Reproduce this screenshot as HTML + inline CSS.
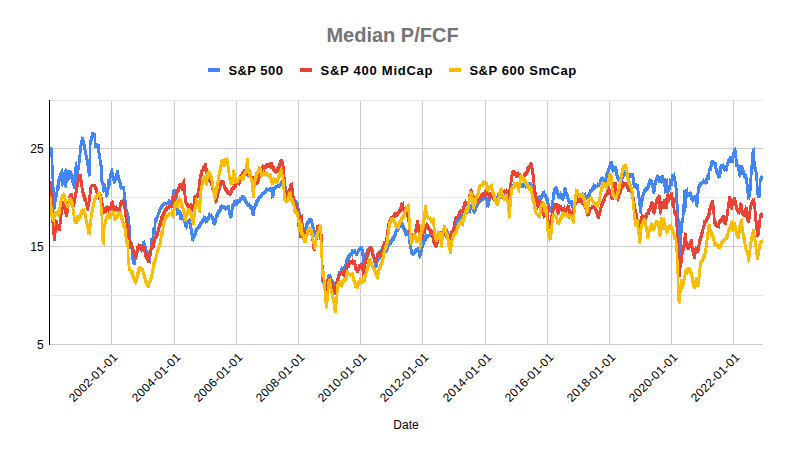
<!DOCTYPE html>
<html><head><meta charset="utf-8"><style>
html,body{margin:0;padding:0;background:#fff;width:785px;height:455px;overflow:hidden}
svg{display:block}
text{font-family:"Liberation Sans",Arial,sans-serif}
.ax{font-size:12px;fill:#000}
.ttl{font-size:20px;font-weight:bold;fill:#757575}
.lg{font-size:13px;font-weight:bold;fill:#000}
</style></head><body>
<svg width="785" height="455" viewBox="0 0 785 455">
<defs><clipPath id="pc"><rect x="50" y="95" width="713" height="250"/></clipPath></defs>
<rect width="785" height="455" fill="#fff"/>
<text x="392.5" y="42" text-anchor="middle" class="ttl">Median P/FCF</text>
<rect x="208" y="68" width="12" height="4" fill="#4285f4"/>
<text x="228.4" y="74.5" class="lg" textLength="54.5" lengthAdjust="spacing">S&amp;P 500</text>
<rect x="300" y="68" width="12" height="4" fill="#ea4335"/>
<text x="320.5" y="74.5" class="lg" textLength="112" lengthAdjust="spacing">S&amp;P 400 MidCap</text>
<rect x="449" y="68" width="12" height="4" fill="#fbbc04"/>
<text x="469.4" y="74.5" class="lg" textLength="106.8" lengthAdjust="spacing">S&amp;P 600 SmCap</text>
<line x1="111.5" x2="111.5" y1="100" y2="345" stroke="#cccccc" stroke-width="1"/>
<line x1="174.5" x2="174.5" y1="100" y2="345" stroke="#cccccc" stroke-width="1"/>
<line x1="236.5" x2="236.5" y1="100" y2="345" stroke="#cccccc" stroke-width="1"/>
<line x1="298.5" x2="298.5" y1="100" y2="345" stroke="#cccccc" stroke-width="1"/>
<line x1="360.5" x2="360.5" y1="100" y2="345" stroke="#cccccc" stroke-width="1"/>
<line x1="422.5" x2="422.5" y1="100" y2="345" stroke="#cccccc" stroke-width="1"/>
<line x1="485.5" x2="485.5" y1="100" y2="345" stroke="#cccccc" stroke-width="1"/>
<line x1="547.5" x2="547.5" y1="100" y2="345" stroke="#cccccc" stroke-width="1"/>
<line x1="609.5" x2="609.5" y1="100" y2="345" stroke="#cccccc" stroke-width="1"/>
<line x1="671.5" x2="671.5" y1="100" y2="345" stroke="#cccccc" stroke-width="1"/>
<line x1="733.5" x2="733.5" y1="100" y2="345" stroke="#cccccc" stroke-width="1"/>
<line x1="49" x2="763" y1="295.5" y2="295.5" stroke="#e6e6e6" stroke-width="1"/>
<line x1="49" x2="763" y1="197.5" y2="197.5" stroke="#e6e6e6" stroke-width="1"/>
<line x1="49" x2="763" y1="100.5" y2="100.5" stroke="#e6e6e6" stroke-width="1"/>
<line x1="49" x2="763" y1="246.5" y2="246.5" stroke="#cccccc" stroke-width="1"/>
<line x1="49" x2="763" y1="148.5" y2="148.5" stroke="#cccccc" stroke-width="1"/>
<line x1="49" x2="763" y1="344.5" y2="344.5" stroke="#cccccc" stroke-width="1"/>
<line x1="49.5" x2="49.5" y1="100" y2="345" stroke="#000" stroke-width="1"/>
<text x="43.6" y="348.8" text-anchor="end" class="ax">5</text>
<text x="43.6" y="250.8" text-anchor="end" class="ax">15</text>
<text x="43.6" y="152.8" text-anchor="end" class="ax">25</text>
<text transform="translate(118.3,358.1) rotate(-45)" text-anchor="end" class="ax" textLength="63" lengthAdjust="spacing">2002-01-01</text>
<text transform="translate(181.3,358.1) rotate(-45)" text-anchor="end" class="ax" textLength="63" lengthAdjust="spacing">2004-01-01</text>
<text transform="translate(243.3,358.1) rotate(-45)" text-anchor="end" class="ax" textLength="63" lengthAdjust="spacing">2006-01-01</text>
<text transform="translate(305.3,358.1) rotate(-45)" text-anchor="end" class="ax" textLength="63" lengthAdjust="spacing">2008-01-01</text>
<text transform="translate(367.3,358.1) rotate(-45)" text-anchor="end" class="ax" textLength="63" lengthAdjust="spacing">2010-01-01</text>
<text transform="translate(429.3,358.1) rotate(-45)" text-anchor="end" class="ax" textLength="63" lengthAdjust="spacing">2012-01-01</text>
<text transform="translate(492.3,358.1) rotate(-45)" text-anchor="end" class="ax" textLength="63" lengthAdjust="spacing">2014-01-01</text>
<text transform="translate(554.3,358.1) rotate(-45)" text-anchor="end" class="ax" textLength="63" lengthAdjust="spacing">2016-01-01</text>
<text transform="translate(616.3,358.1) rotate(-45)" text-anchor="end" class="ax" textLength="63" lengthAdjust="spacing">2018-01-01</text>
<text transform="translate(678.3,358.1) rotate(-45)" text-anchor="end" class="ax" textLength="63" lengthAdjust="spacing">2020-01-01</text>
<text transform="translate(740.3,358.1) rotate(-45)" text-anchor="end" class="ax" textLength="63" lengthAdjust="spacing">2022-01-01</text>
<g clip-path="url(#pc)"><path d="M50 147h1v10h-1zM51 147h1v32h-1zM52 148h1v53h-1zM53 165h1v45h-1zM54 187h1v23h-1zM55 192h1v17h-1zM56 185h1v17h-1zM57 179h1v18h-1zM58 176h1v15h-1zM59 173h1v16h-1zM60 171h1v11h-1zM61 169h1v17h-1zM62 168h1v19h-1zM63 172h1v13h-1zM64 170h1v17h-1zM65 168h1v20h-1zM66 169h1v19h-1zM67 170h1v13h-1zM68 170h1v11h-1zM69 170h1v10h-1zM70 170h1v9h-1zM71 171h1v12h-1zM72 173h1v13h-1zM73 175h1v14h-1zM74 167h1v22h-1zM75 162h1v27h-1zM76 161h1v21h-1zM77 165h1v17h-1zM78 155h1v21h-1zM79 145h1v25h-1zM80 140h1v23h-1zM81 136h1v17h-1zM82 137h1v9h-1zM83 137h1v13h-1zM84 140h1v15h-1zM85 144h1v16h-1zM86 150h1v16h-1zM87 155h1v18h-1zM88 159h1v18h-1zM89 140h1v36h-1zM90 136h1v40h-1zM91 132h1v13h-1zM92 132h1v9h-1zM93 132h1v6h-1zM94 133h1v15h-1zM95 133h1v15h-1zM96 143h1v5h-1zM97 143h1v10h-1zM98 144h1v15h-1zM99 144h1v22h-1zM100 153h1v29h-1zM101 160h1v25h-1zM102 165h1v27h-1zM103 181h1v12h-1zM104 183h1v9h-1zM105 184h1v13h-1zM106 187h1v11h-1zM107 179h1v18h-1zM108 179h1v16h-1zM109 173h1v16h-1zM110 170h1v16h-1zM111 168h1v10h-1zM112 168h1v13h-1zM113 172h1v12h-1zM114 176h1v8h-1zM115 173h1v10h-1zM116 170h1v11h-1zM117 170h1v10h-1zM118 170h1v13h-1zM119 175h1v13h-1zM120 179h1v11h-1zM121 182h1v7h-1zM122 186h1v4h-1zM123 186h1v14h-1zM124 186h1v22h-1zM125 192h1v22h-1zM126 200h1v17h-1zM127 209h1v16h-1zM128 212h1v20h-1zM129 216h1v33h-1zM130 225h1v24h-1zM131 242h1v18h-1zM132 242h1v22h-1zM133 253h1v12h-1zM134 254h1v11h-1zM135 251h1v14h-1zM136 248h1v12h-1zM137 245h1v10h-1zM138 244h1v9h-1zM139 244h1v6h-1zM140 244h1v6h-1zM141 244h1v9h-1zM142 241h1v10h-1zM143 241h1v7h-1zM144 240h1v11h-1zM145 243h1v11h-1zM146 246h1v12h-1zM147 250h1v12h-1zM148 251h1v12h-1zM149 251h1v12h-1zM150 238h1v26h-1zM151 238h1v18h-1zM152 228h1v20h-1zM153 227h1v16h-1zM154 218h1v17h-1zM155 217h1v18h-1zM156 215h1v8h-1zM157 212h1v9h-1zM158 209h1v9h-1zM159 207h1v8h-1zM160 205h1v8h-1zM161 204h1v6h-1zM162 203h1v6h-1zM163 202h1v5h-1zM164 202h1v4h-1zM165 202h1v3h-1zM166 202h1v5h-1zM167 201h1v4h-1zM168 199h1v7h-1zM169 199h1v6h-1zM170 200h1v5h-1zM171 196h1v10h-1zM172 190h1v16h-1zM173 189h1v14h-1zM174 189h1v22h-1zM175 189h1v21h-1zM176 191h1v25h-1zM177 190h1v25h-1zM178 209h1v6h-1zM179 210h1v10h-1zM180 210h1v10h-1zM181 212h1v9h-1zM182 214h1v6h-1zM183 214h1v9h-1zM184 215h1v12h-1zM185 218h1v10h-1zM186 219h1v11h-1zM187 220h1v8h-1zM188 219h1v5h-1zM189 218h1v11h-1zM190 219h1v16h-1zM191 223h1v18h-1zM192 228h1v13h-1zM193 233h1v9h-1zM194 230h1v9h-1zM195 228h1v9h-1zM196 227h1v8h-1zM197 226h1v6h-1zM198 224h1v6h-1zM199 222h1v7h-1zM200 221h1v7h-1zM201 219h1v7h-1zM202 218h1v6h-1zM203 215h1v8h-1zM204 216h1v6h-1zM205 216h1v8h-1zM206 217h1v6h-1zM207 216h1v7h-1zM208 213h1v8h-1zM209 212h1v8h-1zM210 214h1v4h-1zM211 213h1v7h-1zM212 215h1v9h-1zM213 216h1v9h-1zM214 218h1v8h-1zM215 214h1v11h-1zM216 212h1v11h-1zM217 210h1v8h-1zM218 209h1v8h-1zM219 206h1v8h-1zM220 205h1v8h-1zM221 204h1v7h-1zM222 205h1v4h-1zM223 205h1v4h-1zM224 205h1v5h-1zM225 206h1v5h-1zM226 206h1v4h-1zM227 205h1v5h-1zM228 205h1v10h-1zM229 205h1v13h-1zM230 210h1v9h-1zM231 204h1v14h-1zM232 203h1v14h-1zM233 200h1v10h-1zM234 200h1v7h-1zM235 199h1v7h-1zM236 200h1v6h-1zM237 199h1v7h-1zM238 199h1v5h-1zM239 197h1v6h-1zM240 197h1v6h-1zM241 195h1v6h-1zM242 195h1v5h-1zM243 195h1v6h-1zM244 196h1v7h-1zM245 197h1v7h-1zM246 199h1v7h-1zM247 201h1v6h-1zM248 203h1v4h-1zM249 202h1v7h-1zM250 204h1v6h-1zM251 205h1v10h-1zM252 206h1v10h-1zM253 206h1v10h-1zM254 203h1v13h-1zM255 200h1v10h-1zM256 199h1v8h-1zM257 197h1v9h-1zM258 196h1v7h-1zM259 195h1v6h-1zM260 194h1v5h-1zM261 192h1v6h-1zM262 192h1v5h-1zM263 191h1v4h-1zM264 190h1v5h-1zM265 188h1v6h-1zM266 187h1v6h-1zM267 188h1v4h-1zM268 188h1v3h-1zM269 187h1v5h-1zM270 187h1v5h-1zM271 187h1v12h-1zM272 187h1v11h-1zM273 187h1v11h-1zM274 186h1v10h-1zM275 185h1v5h-1zM276 185h1v4h-1zM277 184h1v4h-1zM278 184h1v4h-1zM279 183h1v5h-1zM280 181h1v6h-1zM281 180h1v6h-1zM282 181h1v4h-1zM283 181h1v5h-1zM284 182h1v8h-1zM285 182h1v11h-1zM286 186h1v9h-1zM287 190h1v6h-1zM288 191h1v6h-1zM289 192h1v7h-1zM290 194h1v6h-1zM291 195h1v5h-1zM292 195h1v6h-1zM293 197h1v7h-1zM294 199h1v5h-1zM295 199h1v6h-1zM296 200h1v6h-1zM297 201h1v13h-1zM298 203h1v16h-1zM299 208h1v14h-1zM300 212h1v15h-1zM301 217h1v13h-1zM302 220h1v12h-1zM303 224h1v8h-1zM304 227h1v5h-1zM305 223h1v9h-1zM306 221h1v11h-1zM307 220h1v8h-1zM308 218h1v7h-1zM309 218h1v6h-1zM310 218h1v5h-1zM311 218h1v11h-1zM312 219h1v14h-1zM313 223h1v12h-1zM314 227h1v10h-1zM315 230h1v6h-1zM316 230h1v6h-1zM317 230h1v5h-1zM318 230h1v7h-1zM319 230h1v10h-1zM320 233h1v22h-1zM321 234h1v48h-1zM322 245h1v39h-1zM323 270h1v15h-1zM324 280h1v6h-1zM325 280h1v5h-1zM326 279h1v7h-1zM327 275h1v10h-1zM328 274h1v8h-1zM329 274h1v6h-1zM330 274h1v9h-1zM331 276h1v8h-1zM332 279h1v7h-1zM333 280h1v12h-1zM334 282h1v13h-1zM335 283h1v12h-1zM336 278h1v16h-1zM337 275h1v16h-1zM338 271h1v12h-1zM339 271h1v8h-1zM340 268h1v8h-1zM341 266h1v8h-1zM342 267h1v6h-1zM343 266h1v7h-1zM344 264h1v7h-1zM345 259h1v12h-1zM346 257h1v12h-1zM347 255h1v10h-1zM348 254h1v8h-1zM349 253h1v6h-1zM350 252h1v6h-1zM351 249h1v7h-1zM352 249h1v8h-1zM353 250h1v4h-1zM354 249h1v5h-1zM355 249h1v7h-1zM356 251h1v5h-1zM357 249h1v7h-1zM358 248h1v6h-1zM359 247h1v5h-1zM360 246h1v5h-1zM361 247h1v9h-1zM362 246h1v18h-1zM363 249h1v17h-1zM364 253h1v11h-1zM365 252h1v11h-1zM366 249h1v9h-1zM367 248h1v8h-1zM368 247h1v7h-1zM369 246h1v5h-1zM370 246h1v5h-1zM371 246h1v9h-1zM372 247h1v12h-1zM373 249h1v14h-1zM374 254h1v13h-1zM375 258h1v10h-1zM376 256h1v12h-1zM377 255h1v12h-1zM378 253h1v9h-1zM379 250h1v10h-1zM380 249h1v10h-1zM381 247h1v8h-1zM382 244h1v8h-1zM383 243h1v7h-1zM384 243h1v6h-1zM385 243h1v9h-1zM386 245h1v8h-1zM387 243h1v9h-1zM388 242h1v8h-1zM389 240h1v7h-1zM390 239h1v6h-1zM391 237h1v8h-1zM392 236h1v7h-1zM393 234h1v7h-1zM394 231h1v10h-1zM395 229h1v9h-1zM396 228h1v8h-1zM397 227h1v5h-1zM398 224h1v8h-1zM399 221h1v9h-1zM400 221h1v7h-1zM401 218h1v10h-1zM402 221h1v9h-1zM403 223h1v9h-1zM404 225h1v10h-1zM405 228h1v9h-1zM406 229h1v7h-1zM407 230h1v6h-1zM408 229h1v15h-1zM409 230h1v19h-1zM410 237h1v17h-1zM411 244h1v11h-1zM412 249h1v7h-1zM413 251h1v5h-1zM414 249h1v6h-1zM415 248h1v6h-1zM416 248h1v5h-1zM417 247h1v5h-1zM418 247h1v10h-1zM419 247h1v12h-1zM420 245h1v13h-1zM421 242h1v14h-1zM422 237h1v15h-1zM423 237h1v11h-1zM424 235h1v10h-1zM425 235h1v7h-1zM426 234h1v7h-1zM427 234h1v5h-1zM428 234h1v4h-1zM429 233h1v4h-1zM430 233h1v4h-1zM431 233h1v5h-1zM432 233h1v6h-1zM433 235h1v6h-1zM434 235h1v8h-1zM435 236h1v6h-1zM436 233h1v10h-1zM437 233h1v9h-1zM438 232h1v7h-1zM439 232h1v5h-1zM440 231h1v5h-1zM441 231h1v4h-1zM442 229h1v5h-1zM443 228h1v6h-1zM444 229h1v4h-1zM445 228h1v6h-1zM446 230h1v6h-1zM447 229h1v9h-1zM448 231h1v10h-1zM449 233h1v7h-1zM450 233h1v7h-1zM451 230h1v10h-1zM452 229h1v8h-1zM453 228h1v8h-1zM454 225h1v9h-1zM455 221h1v10h-1zM456 220h1v9h-1zM457 218h1v8h-1zM458 217h1v6h-1zM459 216h1v5h-1zM460 215h1v5h-1zM461 214h1v5h-1zM462 213h1v5h-1zM463 211h1v6h-1zM464 209h1v7h-1zM465 209h1v6h-1zM466 209h1v4h-1zM467 209h1v5h-1zM468 209h1v4h-1zM469 206h1v7h-1zM470 204h1v10h-1zM471 205h1v5h-1zM472 205h1v7h-1zM473 206h1v8h-1zM474 207h1v7h-1zM475 204h1v9h-1zM476 202h1v9h-1zM477 201h1v7h-1zM478 200h1v6h-1zM479 198h1v6h-1zM480 195h1v8h-1zM481 197h1v5h-1zM482 196h1v5h-1zM483 195h1v6h-1zM484 195h1v5h-1zM485 194h1v7h-1zM486 194h1v14h-1zM487 197h1v10h-1zM488 198h1v10h-1zM489 195h1v11h-1zM490 193h1v8h-1zM491 193h1v6h-1zM492 193h1v5h-1zM493 192h1v7h-1zM494 193h1v8h-1zM495 195h1v6h-1zM496 196h1v5h-1zM497 193h1v7h-1zM498 195h1v5h-1zM499 194h1v5h-1zM500 192h1v7h-1zM501 192h1v7h-1zM502 192h1v6h-1zM503 193h1v5h-1zM504 193h1v4h-1zM505 192h1v6h-1zM506 193h1v5h-1zM507 193h1v4h-1zM508 189h1v8h-1zM509 186h1v10h-1zM510 186h1v8h-1zM511 185h1v7h-1zM512 184h1v6h-1zM513 183h1v6h-1zM514 182h1v6h-1zM515 182h1v4h-1zM516 182h1v5h-1zM517 182h1v6h-1zM518 184h1v4h-1zM519 184h1v5h-1zM520 185h1v3h-1zM521 183h1v5h-1zM522 183h1v5h-1zM523 182h1v6h-1zM524 182h1v5h-1zM525 181h1v8h-1zM526 183h1v5h-1zM527 182h1v7h-1zM528 182h1v6h-1zM529 182h1v5h-1zM530 182h1v7h-1zM531 183h1v10h-1zM532 184h1v13h-1zM533 188h1v13h-1zM534 192h1v10h-1zM535 195h1v7h-1zM536 197h1v6h-1zM537 196h1v6h-1zM538 196h1v4h-1zM539 195h1v6h-1zM540 195h1v6h-1zM541 193h1v7h-1zM542 191h1v8h-1zM543 191h1v6h-1zM544 190h1v8h-1zM545 193h1v8h-1zM546 194h1v10h-1zM547 196h1v12h-1zM548 198h1v13h-1zM549 203h1v9h-1zM550 206h1v7h-1zM551 200h1v13h-1zM552 192h1v20h-1zM553 188h1v18h-1zM554 187h1v13h-1zM555 186h1v8h-1zM556 186h1v9h-1zM557 187h1v11h-1zM558 190h1v9h-1zM559 193h1v6h-1zM560 191h1v8h-1zM561 193h1v7h-1zM562 193h1v8h-1zM563 188h1v13h-1zM564 187h1v12h-1zM565 187h1v9h-1zM566 188h1v11h-1zM567 192h1v10h-1zM568 194h1v10h-1zM569 198h1v6h-1zM570 200h1v6h-1zM571 200h1v8h-1zM572 200h1v9h-1zM573 201h1v9h-1zM574 198h1v12h-1zM575 195h1v12h-1zM576 193h1v9h-1zM577 192h1v9h-1zM578 193h1v4h-1zM579 193h1v6h-1zM580 193h1v6h-1zM581 193h1v6h-1zM582 192h1v7h-1zM583 193h1v4h-1zM584 193h1v6h-1zM585 192h1v6h-1zM586 195h1v5h-1zM587 194h1v5h-1zM588 192h1v7h-1zM589 189h1v8h-1zM590 189h1v7h-1zM591 187h1v6h-1zM592 185h1v7h-1zM593 183h1v8h-1zM594 184h1v6h-1zM595 184h1v5h-1zM596 185h1v3h-1zM597 182h1v6h-1zM598 183h1v4h-1zM599 179h1v8h-1zM600 177h1v8h-1zM601 177h1v7h-1zM602 176h1v6h-1zM603 177h1v6h-1zM604 178h1v5h-1zM605 173h1v10h-1zM606 171h1v13h-1zM607 168h1v11h-1zM608 165h1v10h-1zM609 162h1v10h-1zM610 161h1v8h-1zM611 161h1v10h-1zM612 161h1v12h-1zM613 165h1v7h-1zM614 166h1v6h-1zM615 166h1v10h-1zM616 166h1v13h-1zM617 169h1v12h-1zM618 175h1v7h-1zM619 177h1v6h-1zM620 178h1v5h-1zM621 175h1v8h-1zM622 172h1v9h-1zM623 172h1v7h-1zM624 170h1v7h-1zM625 172h1v4h-1zM626 172h1v5h-1zM627 172h1v5h-1zM628 173h1v4h-1zM629 173h1v6h-1zM630 173h1v5h-1zM631 173h1v5h-1zM632 173h1v12h-1zM633 173h1v15h-1zM634 177h1v11h-1zM635 183h1v6h-1zM636 183h1v7h-1zM637 184h1v14h-1zM638 184h1v22h-1zM639 191h1v22h-1zM640 197h1v17h-1zM641 195h1v20h-1zM642 192h1v15h-1zM643 189h1v12h-1zM644 188h1v8h-1zM645 187h1v6h-1zM646 186h1v6h-1zM647 183h1v8h-1zM648 180h1v10h-1zM649 178h1v10h-1zM650 179h1v6h-1zM651 179h1v9h-1zM652 180h1v13h-1zM653 183h1v11h-1zM654 180h1v14h-1zM655 177h1v15h-1zM656 175h1v10h-1zM657 174h1v7h-1zM658 175h1v8h-1zM659 176h1v7h-1zM660 176h1v7h-1zM661 175h1v9h-1zM662 175h1v8h-1zM663 175h1v12h-1zM664 178h1v16h-1zM665 178h1v15h-1zM666 179h1v14h-1zM667 178h1v16h-1zM668 185h1v9h-1zM669 178h1v14h-1zM670 179h1v11h-1zM671 174h1v12h-1zM672 174h1v12h-1zM673 174h1v7h-1zM674 172h1v15h-1zM675 176h1v27h-1zM676 181h1v35h-1zM677 188h1v44h-1zM678 204h1v47h-1zM679 219h1v40h-1zM680 221h1v37h-1zM681 218h1v41h-1zM682 204h1v29h-1zM683 190h1v33h-1zM684 190h1v25h-1zM685 189h1v23h-1zM686 189h1v19h-1zM687 187h1v11h-1zM688 192h1v5h-1zM689 192h1v5h-1zM690 191h1v9h-1zM691 192h1v9h-1zM692 195h1v8h-1zM693 196h1v6h-1zM694 195h1v6h-1zM695 195h1v11h-1zM696 193h1v14h-1zM697 186h1v22h-1zM698 184h1v20h-1zM699 182h1v11h-1zM700 182h1v6h-1zM701 181h1v5h-1zM702 180h1v5h-1zM703 178h1v6h-1zM704 180h1v4h-1zM705 178h1v7h-1zM706 175h1v9h-1zM707 173h1v11h-1zM708 168h1v12h-1zM709 166h1v14h-1zM710 161h1v10h-1zM711 160h1v11h-1zM712 160h1v7h-1zM713 160h1v5h-1zM714 161h1v8h-1zM715 162h1v11h-1zM716 162h1v13h-1zM717 168h1v10h-1zM718 170h1v9h-1zM719 166h1v12h-1zM720 164h1v14h-1zM721 164h1v10h-1zM722 164h1v5h-1zM723 163h1v8h-1zM724 165h1v7h-1zM725 165h1v6h-1zM726 162h1v10h-1zM727 159h1v12h-1zM728 158h1v8h-1zM729 156h1v7h-1zM730 156h1v7h-1zM731 156h1v7h-1zM732 152h1v11h-1zM733 149h1v14h-1zM734 148h1v10h-1zM735 147h1v20h-1zM736 150h1v17h-1zM737 159h1v12h-1zM738 164h1v12h-1zM739 165h1v13h-1zM740 165h1v12h-1zM741 165h1v10h-1zM742 165h1v10h-1zM743 167h1v11h-1zM744 170h1v9h-1zM745 173h1v11h-1zM746 174h1v19h-1zM747 177h1v23h-1zM748 184h1v15h-1zM749 178h1v22h-1zM750 165h1v32h-1zM751 152h1v39h-1zM752 148h1v27h-1zM753 149h1v20h-1zM754 147h1v25h-1zM755 161h1v20h-1zM756 167h1v28h-1zM757 172h1v26h-1zM758 186h1v12h-1zM759 178h1v20h-1zM760 176h1v21h-1zM761 175h1v7h-1zM762 176h1v4h-1z" fill="#4285f4"/>
<path d="M50 181h1v23h-1zM51 181h1v42h-1zM52 191h1v44h-1zM53 210h1v31h-1zM54 226h1v15h-1zM55 219h1v22h-1zM56 220h1v13h-1zM57 220h1v10h-1zM58 224h1v7h-1zM59 217h1v14h-1zM60 209h1v22h-1zM61 203h1v21h-1zM62 202h1v13h-1zM63 201h1v9h-1zM64 202h1v12h-1zM65 204h1v13h-1zM66 206h1v11h-1zM67 201h1v16h-1zM68 196h1v17h-1zM69 194h1v12h-1zM70 193h1v9h-1zM71 193h1v9h-1zM72 193h1v14h-1zM73 197h1v10h-1zM74 192h1v15h-1zM75 187h1v17h-1zM76 182h1v16h-1zM77 176h1v17h-1zM78 173h1v14h-1zM79 174h1v8h-1zM80 174h1v13h-1zM81 174h1v19h-1zM82 180h1v17h-1zM83 188h1v13h-1zM84 192h1v10h-1zM85 195h1v11h-1zM86 198h1v12h-1zM87 202h1v9h-1zM88 195h1v16h-1zM89 187h1v20h-1zM90 185h1v17h-1zM91 184h1v10h-1zM92 184h1v3h-1zM93 184h1v3h-1zM94 184h1v6h-1zM95 184h1v9h-1zM96 186h1v12h-1zM97 188h1v11h-1zM98 192h1v8h-1zM99 193h1v7h-1zM100 192h1v10h-1zM101 194h1v15h-1zM102 197h1v18h-1zM103 203h1v11h-1zM104 207h1v7h-1zM105 206h1v7h-1zM106 206h1v7h-1zM107 205h1v7h-1zM108 206h1v7h-1zM109 206h1v5h-1zM110 202h1v9h-1zM111 201h1v9h-1zM112 200h1v11h-1zM113 201h1v11h-1zM114 205h1v7h-1zM115 206h1v5h-1zM116 205h1v7h-1zM117 207h1v6h-1zM118 207h1v6h-1zM119 202h1v12h-1zM120 200h1v13h-1zM121 200h1v7h-1zM122 199h1v6h-1zM123 199h1v10h-1zM124 201h1v16h-1zM125 202h1v21h-1zM126 209h1v19h-1zM127 218h1v20h-1zM128 223h1v19h-1zM129 229h1v16h-1zM130 237h1v11h-1zM131 241h1v11h-1zM132 244h1v10h-1zM133 246h1v11h-1zM134 249h1v9h-1zM135 251h1v7h-1zM136 246h1v13h-1zM137 245h1v12h-1zM138 243h1v8h-1zM139 244h1v6h-1zM140 244h1v7h-1zM141 245h1v5h-1zM142 246h1v5h-1zM143 245h1v7h-1zM144 246h1v11h-1zM145 249h1v10h-1zM146 252h1v9h-1zM147 254h1v9h-1zM148 253h1v10h-1zM149 249h1v14h-1zM150 246h1v12h-1zM151 243h1v11h-1zM152 240h1v10h-1zM153 237h1v12h-1zM154 236h1v12h-1zM155 235h1v8h-1zM156 231h1v8h-1zM157 227h1v11h-1zM158 223h1v13h-1zM159 220h1v12h-1zM160 216h1v12h-1zM161 214h1v12h-1zM162 212h1v9h-1zM163 210h1v10h-1zM164 208h1v8h-1zM165 207h1v8h-1zM166 205h1v7h-1zM167 206h1v5h-1zM168 204h1v5h-1zM169 205h1v5h-1zM170 205h1v3h-1zM171 201h1v7h-1zM172 196h1v12h-1zM173 196h1v11h-1zM174 193h1v10h-1zM175 192h1v11h-1zM176 189h1v9h-1zM177 187h1v10h-1zM178 184h1v9h-1zM179 183h1v9h-1zM180 183h1v6h-1zM181 183h1v8h-1zM182 181h1v10h-1zM183 179h1v16h-1zM184 178h1v25h-1zM185 184h1v21h-1zM186 196h1v11h-1zM187 202h1v6h-1zM188 203h1v7h-1zM189 204h1v6h-1zM190 203h1v7h-1zM191 203h1v9h-1zM192 204h1v8h-1zM193 196h1v16h-1zM194 195h1v16h-1zM195 195h1v10h-1zM196 193h1v7h-1zM197 188h1v10h-1zM198 179h1v19h-1zM199 174h1v21h-1zM200 170h1v16h-1zM201 169h1v9h-1zM202 166h1v10h-1zM203 165h1v7h-1zM204 163h1v8h-1zM205 163h1v11h-1zM206 163h1v15h-1zM207 168h1v12h-1zM208 173h1v9h-1zM209 176h1v7h-1zM210 177h1v9h-1zM211 179h1v11h-1zM212 182h1v11h-1zM213 185h1v12h-1zM214 189h1v13h-1zM215 192h1v12h-1zM216 193h1v10h-1zM217 189h1v13h-1zM218 185h1v13h-1zM219 182h1v11h-1zM220 180h1v10h-1zM221 180h1v7h-1zM222 180h1v5h-1zM223 180h1v9h-1zM224 181h1v10h-1zM225 185h1v7h-1zM226 187h1v7h-1zM227 188h1v7h-1zM228 190h1v5h-1zM229 191h1v5h-1zM230 188h1v8h-1zM231 187h1v8h-1zM232 186h1v7h-1zM233 184h1v6h-1zM234 182h1v8h-1zM235 180h1v8h-1zM236 179h1v9h-1zM237 179h1v6h-1zM238 178h1v7h-1zM239 175h1v11h-1zM240 174h1v10h-1zM241 172h1v8h-1zM242 171h1v6h-1zM243 169h1v6h-1zM244 169h1v5h-1zM245 168h1v6h-1zM246 168h1v8h-1zM247 169h1v8h-1zM248 170h1v7h-1zM249 170h1v7h-1zM250 170h1v10h-1zM251 173h1v7h-1zM252 176h1v5h-1zM253 176h1v9h-1zM254 178h1v6h-1zM255 178h1v7h-1zM256 180h1v5h-1zM257 178h1v7h-1zM258 174h1v10h-1zM259 171h1v11h-1zM260 169h1v9h-1zM261 166h1v10h-1zM262 164h1v9h-1zM263 165h1v5h-1zM264 165h1v7h-1zM265 164h1v5h-1zM266 163h1v6h-1zM267 163h1v5h-1zM268 163h1v5h-1zM269 162h1v6h-1zM270 162h1v7h-1zM271 162h1v7h-1zM272 162h1v9h-1zM273 165h1v7h-1zM274 166h1v7h-1zM275 169h1v5h-1zM276 167h1v6h-1zM277 166h1v7h-1zM278 163h1v9h-1zM279 160h1v10h-1zM280 159h1v9h-1zM281 159h1v7h-1zM282 159h1v13h-1zM283 161h1v27h-1zM284 166h1v32h-1zM285 177h1v20h-1zM286 190h1v8h-1zM287 190h1v7h-1zM288 188h1v8h-1zM289 184h1v9h-1zM290 183h1v8h-1zM291 183h1v12h-1zM292 182h1v19h-1zM293 188h1v19h-1zM294 196h1v13h-1zM295 201h1v10h-1zM296 203h1v10h-1zM297 205h1v22h-1zM298 209h1v19h-1zM299 215h1v23h-1zM300 215h1v23h-1zM301 215h1v23h-1zM302 214h1v20h-1zM303 223h1v15h-1zM304 230h1v8h-1zM305 231h1v7h-1zM306 230h1v7h-1zM307 229h1v6h-1zM308 228h1v6h-1zM309 228h1v4h-1zM310 228h1v7h-1zM311 228h1v13h-1zM312 230h1v19h-1zM313 235h1v16h-1zM314 240h1v11h-1zM315 233h1v18h-1zM316 225h1v22h-1zM317 225h1v15h-1zM318 224h1v12h-1zM319 226h1v11h-1zM320 230h1v21h-1zM321 234h1v38h-1zM322 234h1v48h-1zM323 265h1v25h-1zM324 273h1v19h-1zM325 283h1v9h-1zM326 280h1v11h-1zM327 278h1v9h-1zM328 278h1v6h-1zM329 277h1v6h-1zM330 277h1v9h-1zM331 276h1v12h-1zM332 282h1v7h-1zM333 285h1v9h-1zM334 286h1v8h-1zM335 281h1v13h-1zM336 278h1v14h-1zM337 274h1v12h-1zM338 273h1v10h-1zM339 271h1v8h-1zM340 271h1v5h-1zM341 271h1v4h-1zM342 270h1v6h-1zM343 271h1v6h-1zM344 269h1v8h-1zM345 266h1v10h-1zM346 263h1v13h-1zM347 263h1v9h-1zM348 261h1v7h-1zM349 259h1v9h-1zM350 260h1v5h-1zM351 260h1v4h-1zM352 258h1v7h-1zM353 260h1v5h-1zM354 260h1v10h-1zM355 260h1v11h-1zM356 264h1v9h-1zM357 267h1v6h-1zM358 264h1v9h-1zM359 264h1v7h-1zM360 263h1v6h-1zM361 262h1v9h-1zM362 263h1v14h-1zM363 265h1v10h-1zM364 259h1v16h-1zM365 256h1v16h-1zM366 252h1v12h-1zM367 249h1v11h-1zM368 247h1v10h-1zM369 246h1v9h-1zM370 246h1v6h-1zM371 246h1v10h-1zM372 248h1v10h-1zM373 252h1v8h-1zM374 255h1v7h-1zM375 257h1v5h-1zM376 253h1v10h-1zM377 252h1v9h-1zM378 251h1v6h-1zM379 251h1v5h-1zM380 251h1v6h-1zM381 246h1v11h-1zM382 244h1v13h-1zM383 241h1v12h-1zM384 241h1v8h-1zM385 237h1v9h-1zM386 229h1v16h-1zM387 223h1v19h-1zM388 220h1v16h-1zM389 218h1v11h-1zM390 216h1v9h-1zM391 216h1v5h-1zM392 215h1v4h-1zM393 213h1v8h-1zM394 212h1v7h-1zM395 212h1v6h-1zM396 212h1v5h-1zM397 211h1v6h-1zM398 209h1v7h-1zM399 207h1v7h-1zM400 203h1v10h-1zM401 202h1v10h-1zM402 203h1v8h-1zM403 201h1v10h-1zM404 207h1v4h-1zM405 207h1v6h-1zM406 206h1v11h-1zM407 209h1v13h-1zM408 212h1v21h-1zM409 216h1v24h-1zM410 225h1v16h-1zM411 236h1v6h-1zM412 233h1v9h-1zM413 233h1v8h-1zM414 229h1v11h-1zM415 224h1v12h-1zM416 220h1v13h-1zM417 220h1v12h-1zM418 220h1v20h-1zM419 224h1v19h-1zM420 231h1v14h-1zM421 234h1v10h-1zM422 229h1v11h-1zM423 228h1v12h-1zM424 225h1v9h-1zM425 224h1v11h-1zM426 222h1v7h-1zM427 223h1v7h-1zM428 224h1v7h-1zM429 226h1v7h-1zM430 228h1v8h-1zM431 229h1v9h-1zM432 230h1v13h-1zM433 234h1v11h-1zM434 236h1v11h-1zM435 242h1v6h-1zM436 238h1v10h-1zM437 236h1v11h-1zM438 233h1v11h-1zM439 232h1v8h-1zM440 232h1v5h-1zM441 232h1v4h-1zM442 231h1v6h-1zM443 232h1v5h-1zM444 232h1v4h-1zM445 232h1v6h-1zM446 232h1v7h-1zM447 234h1v6h-1zM448 235h1v5h-1zM449 234h1v6h-1zM450 231h1v9h-1zM451 230h1v10h-1zM452 227h1v9h-1zM453 221h1v12h-1zM454 217h1v16h-1zM455 216h1v10h-1zM456 216h1v4h-1zM457 214h1v5h-1zM458 211h1v7h-1zM459 210h1v7h-1zM460 209h1v7h-1zM461 209h1v4h-1zM462 206h1v7h-1zM463 202h1v12h-1zM464 201h1v10h-1zM465 199h1v8h-1zM466 201h1v5h-1zM467 201h1v7h-1zM468 194h1v14h-1zM469 190h1v18h-1zM470 189h1v11h-1zM471 188h1v10h-1zM472 190h1v13h-1zM473 194h1v8h-1zM474 196h1v7h-1zM475 196h1v5h-1zM476 196h1v7h-1zM477 196h1v7h-1zM478 196h1v7h-1zM479 196h1v4h-1zM480 194h1v6h-1zM481 193h1v7h-1zM482 192h1v6h-1zM483 192h1v5h-1zM484 190h1v8h-1zM485 189h1v8h-1zM486 189h1v6h-1zM487 189h1v7h-1zM488 192h1v7h-1zM489 192h1v7h-1zM490 192h1v5h-1zM491 192h1v6h-1zM492 192h1v8h-1zM493 195h1v6h-1zM494 196h1v5h-1zM495 197h1v5h-1zM496 197h1v5h-1zM497 196h1v6h-1zM498 192h1v9h-1zM499 193h1v6h-1zM500 192h1v6h-1zM501 193h1v4h-1zM502 190h1v8h-1zM503 190h1v6h-1zM504 189h1v5h-1zM505 190h1v4h-1zM506 188h1v8h-1zM507 190h1v11h-1zM508 190h1v10h-1zM509 183h1v18h-1zM510 175h1v22h-1zM511 171h1v18h-1zM512 170h1v12h-1zM513 170h1v6h-1zM514 170h1v6h-1zM515 171h1v7h-1zM516 172h1v6h-1zM517 172h1v6h-1zM518 171h1v6h-1zM519 173h1v5h-1zM520 173h1v6h-1zM521 174h1v5h-1zM522 175h1v4h-1zM523 173h1v7h-1zM524 172h1v7h-1zM525 171h1v6h-1zM526 167h1v9h-1zM527 166h1v9h-1zM528 165h1v8h-1zM529 163h1v8h-1zM530 162h1v7h-1zM531 162h1v13h-1zM532 163h1v20h-1zM533 168h1v25h-1zM534 174h1v23h-1zM535 185h1v18h-1zM536 192h1v15h-1zM537 197h1v13h-1zM538 199h1v9h-1zM539 200h1v6h-1zM540 200h1v9h-1zM541 201h1v9h-1zM542 205h1v11h-1zM543 206h1v13h-1zM544 208h1v10h-1zM545 212h1v5h-1zM546 207h1v11h-1zM547 207h1v21h-1zM548 206h1v24h-1zM549 220h1v9h-1zM550 215h1v16h-1zM551 209h1v19h-1zM552 208h1v13h-1zM553 206h1v8h-1zM554 203h1v8h-1zM555 203h1v6h-1zM556 203h1v10h-1zM557 203h1v12h-1zM558 204h1v11h-1zM559 204h1v10h-1zM560 205h1v6h-1zM561 205h1v7h-1zM562 207h1v4h-1zM563 207h1v6h-1zM564 205h1v8h-1zM565 208h1v5h-1zM566 206h1v8h-1zM567 204h1v7h-1zM568 205h1v11h-1zM569 205h1v14h-1zM570 209h1v9h-1zM571 211h1v8h-1zM572 207h1v10h-1zM573 204h1v10h-1zM574 201h1v11h-1zM575 200h1v8h-1zM576 200h1v5h-1zM577 197h1v6h-1zM578 198h1v5h-1zM579 197h1v6h-1zM580 198h1v5h-1zM581 199h1v6h-1zM582 200h1v5h-1zM583 200h1v7h-1zM584 202h1v7h-1zM585 203h1v10h-1zM586 205h1v11h-1zM587 209h1v8h-1zM588 209h1v7h-1zM589 207h1v9h-1zM590 207h1v6h-1zM591 205h1v5h-1zM592 205h1v4h-1zM593 205h1v4h-1zM594 205h1v6h-1zM595 205h1v9h-1zM596 207h1v10h-1zM597 209h1v10h-1zM598 211h1v8h-1zM599 207h1v12h-1zM600 203h1v13h-1zM601 201h1v11h-1zM602 199h1v9h-1zM603 196h1v10h-1zM604 194h1v9h-1zM605 193h1v8h-1zM606 190h1v7h-1zM607 187h1v9h-1zM608 185h1v10h-1zM609 187h1v8h-1zM610 189h1v10h-1zM611 189h1v11h-1zM612 186h1v14h-1zM613 182h1v18h-1zM614 182h1v11h-1zM615 182h1v16h-1zM616 182h1v18h-1zM617 192h1v10h-1zM618 191h1v10h-1zM619 189h1v10h-1zM620 186h1v9h-1zM621 183h1v10h-1zM622 181h1v9h-1zM623 181h1v7h-1zM624 182h1v5h-1zM625 182h1v4h-1zM626 182h1v7h-1zM627 182h1v10h-1zM628 184h1v8h-1zM629 186h1v6h-1zM630 186h1v7h-1zM631 186h1v13h-1zM632 189h1v14h-1zM633 192h1v17h-1zM634 197h1v17h-1zM635 203h1v17h-1zM636 209h1v15h-1zM637 213h1v13h-1zM638 219h1v8h-1zM639 220h1v8h-1zM640 216h1v11h-1zM641 214h1v13h-1zM642 214h1v7h-1zM643 215h1v4h-1zM644 215h1v5h-1zM645 213h1v7h-1zM646 212h1v8h-1zM647 209h1v9h-1zM648 208h1v7h-1zM649 205h1v10h-1zM650 202h1v10h-1zM651 201h1v9h-1zM652 201h1v12h-1zM653 202h1v12h-1zM654 203h1v12h-1zM655 199h1v14h-1zM656 197h1v12h-1zM657 196h1v8h-1zM658 194h1v15h-1zM659 195h1v19h-1zM660 195h1v20h-1zM661 201h1v12h-1zM662 201h1v8h-1zM663 199h1v10h-1zM664 199h1v10h-1zM665 198h1v11h-1zM666 194h1v15h-1zM667 194h1v15h-1zM668 193h1v10h-1zM669 194h1v8h-1zM670 192h1v8h-1zM671 193h1v13h-1zM672 192h1v16h-1zM673 197h1v17h-1zM674 198h1v18h-1zM675 210h1v17h-1zM676 212h1v35h-1zM677 217h1v48h-1zM678 235h1v41h-1zM679 252h1v25h-1zM680 255h1v22h-1zM681 248h1v20h-1zM682 245h1v18h-1zM683 237h1v17h-1zM684 232h1v19h-1zM685 233h1v14h-1zM686 233h1v16h-1zM687 241h1v9h-1zM688 243h1v7h-1zM689 241h1v9h-1zM690 239h1v9h-1zM691 239h1v13h-1zM692 239h1v17h-1zM693 247h1v12h-1zM694 248h1v11h-1zM695 246h1v13h-1zM696 247h1v7h-1zM697 245h1v8h-1zM698 239h1v14h-1zM699 236h1v15h-1zM700 232h1v13h-1zM701 229h1v12h-1zM702 225h1v13h-1zM703 220h1v14h-1zM704 220h1v9h-1zM705 218h1v8h-1zM706 216h1v7h-1zM707 213h1v9h-1zM708 208h1v12h-1zM709 205h1v13h-1zM710 202h1v13h-1zM711 200h1v10h-1zM712 200h1v14h-1zM713 200h1v24h-1zM714 205h1v21h-1zM715 218h1v9h-1zM716 221h1v7h-1zM717 223h1v5h-1zM718 220h1v8h-1zM719 219h1v10h-1zM720 218h1v6h-1zM721 216h1v7h-1zM722 215h1v7h-1zM723 215h1v9h-1zM724 215h1v10h-1zM725 216h1v9h-1zM726 209h1v16h-1zM727 202h1v19h-1zM728 196h1v20h-1zM729 196h1v12h-1zM730 196h1v13h-1zM731 198h1v12h-1zM732 199h1v11h-1zM733 197h1v9h-1zM734 197h1v9h-1zM735 197h1v13h-1zM736 200h1v12h-1zM737 205h1v9h-1zM738 208h1v6h-1zM739 203h1v12h-1zM740 202h1v11h-1zM741 203h1v12h-1zM742 204h1v12h-1zM743 210h1v7h-1zM744 208h1v9h-1zM745 205h1v13h-1zM746 207h1v14h-1zM747 207h1v16h-1zM748 211h1v12h-1zM749 205h1v18h-1zM750 202h1v17h-1zM751 200h1v10h-1zM752 198h1v8h-1zM753 199h1v10h-1zM754 198h1v23h-1zM755 202h1v28h-1zM756 211h1v26h-1zM757 221h1v16h-1zM758 220h1v17h-1zM759 214h1v21h-1zM760 213h1v15h-1zM761 212h1v6h-1zM762 213h1v5h-1z" fill="#ea4335"/>
<path d="M50 196h1v21h-1zM51 197h1v23h-1zM52 206h1v16h-1zM53 213h1v9h-1zM54 212h1v13h-1zM55 211h1v7h-1zM56 211h1v5h-1zM57 210h1v7h-1zM58 207h1v10h-1zM59 201h1v16h-1zM60 197h1v17h-1zM61 194h1v13h-1zM62 194h1v8h-1zM63 192h1v7h-1zM64 193h1v11h-1zM65 195h1v11h-1zM66 199h1v9h-1zM67 203h1v5h-1zM68 198h1v11h-1zM69 197h1v10h-1zM70 197h1v8h-1zM71 197h1v11h-1zM72 199h1v16h-1zM73 202h1v20h-1zM74 209h1v15h-1zM75 217h1v7h-1zM76 215h1v9h-1zM77 215h1v9h-1zM78 215h1v7h-1zM79 213h1v8h-1zM80 210h1v10h-1zM81 209h1v9h-1zM82 208h1v7h-1zM83 209h1v6h-1zM84 208h1v11h-1zM85 211h1v13h-1zM86 213h1v16h-1zM87 219h1v16h-1zM88 223h1v11h-1zM89 219h1v17h-1zM90 211h1v24h-1zM91 206h1v21h-1zM92 202h1v16h-1zM93 198h1v14h-1zM94 196h1v11h-1zM95 195h1v8h-1zM96 194h1v6h-1zM97 192h1v7h-1zM98 192h1v5h-1zM99 191h1v12h-1zM100 192h1v24h-1zM101 196h1v45h-1zM102 206h1v38h-1zM103 223h1v22h-1zM104 219h1v27h-1zM105 216h1v13h-1zM106 213h1v11h-1zM107 214h1v6h-1zM108 213h1v6h-1zM109 213h1v6h-1zM110 212h1v7h-1zM111 212h1v6h-1zM112 210h1v6h-1zM113 211h1v9h-1zM114 211h1v10h-1zM115 215h1v6h-1zM116 214h1v6h-1zM117 211h1v8h-1zM118 211h1v7h-1zM119 211h1v5h-1zM120 211h1v9h-1zM121 210h1v13h-1zM122 215h1v12h-1zM123 218h1v11h-1zM124 222h1v15h-1zM125 225h1v18h-1zM126 228h1v19h-1zM127 238h1v27h-1zM128 240h1v31h-1zM129 257h1v14h-1zM130 267h1v7h-1zM131 269h1v8h-1zM132 270h1v10h-1zM133 271h1v11h-1zM134 275h1v8h-1zM135 277h1v8h-1zM136 272h1v12h-1zM137 268h1v14h-1zM138 267h1v11h-1zM139 266h1v9h-1zM140 266h1v6h-1zM141 267h1v4h-1zM142 268h1v7h-1zM143 268h1v11h-1zM144 271h1v12h-1zM145 274h1v11h-1zM146 278h1v9h-1zM147 280h1v8h-1zM148 281h1v7h-1zM149 278h1v10h-1zM150 274h1v10h-1zM151 269h1v13h-1zM152 262h1v17h-1zM153 259h1v15h-1zM154 257h1v12h-1zM155 253h1v12h-1zM156 249h1v12h-1zM157 247h1v10h-1zM158 243h1v10h-1zM159 238h1v12h-1zM160 231h1v16h-1zM161 229h1v15h-1zM162 221h1v17h-1zM163 219h1v16h-1zM164 216h1v12h-1zM165 214h1v9h-1zM166 214h1v6h-1zM167 213h1v6h-1zM168 212h1v5h-1zM169 212h1v4h-1zM170 212h1v3h-1zM171 208h1v9h-1zM172 209h1v9h-1zM173 204h1v15h-1zM174 202h1v14h-1zM175 201h1v10h-1zM176 200h1v8h-1zM177 198h1v10h-1zM178 198h1v11h-1zM179 196h1v7h-1zM180 198h1v10h-1zM181 199h1v10h-1zM182 202h1v11h-1zM183 205h1v14h-1zM184 208h1v14h-1zM185 212h1v9h-1zM186 210h1v12h-1zM187 208h1v9h-1zM188 208h1v7h-1zM189 208h1v7h-1zM190 209h1v10h-1zM191 210h1v12h-1zM192 213h1v12h-1zM193 208h1v17h-1zM194 204h1v21h-1zM195 198h1v19h-1zM196 198h1v11h-1zM197 198h1v9h-1zM198 200h1v12h-1zM199 191h1v22h-1zM200 185h1v28h-1zM201 179h1v25h-1zM202 177h1v13h-1zM203 175h1v10h-1zM204 176h1v7h-1zM205 175h1v10h-1zM206 172h1v14h-1zM207 171h1v15h-1zM208 170h1v9h-1zM209 171h1v6h-1zM210 172h1v9h-1zM211 173h1v15h-1zM212 176h1v17h-1zM213 181h1v17h-1zM214 188h1v13h-1zM215 186h1v14h-1zM216 181h1v17h-1zM217 175h1v18h-1zM218 170h1v19h-1zM219 165h1v16h-1zM220 160h1v15h-1zM221 159h1v12h-1zM222 159h1v8h-1zM223 159h1v8h-1zM224 158h1v9h-1zM225 158h1v9h-1zM226 158h1v7h-1zM227 157h1v16h-1zM228 159h1v21h-1zM229 167h1v17h-1zM230 175h1v11h-1zM231 177h1v8h-1zM232 170h1v15h-1zM233 169h1v13h-1zM234 170h1v14h-1zM235 173h1v10h-1zM236 178h1v6h-1zM237 178h1v5h-1zM238 176h1v7h-1zM239 176h1v4h-1zM240 176h1v4h-1zM241 175h1v6h-1zM242 174h1v7h-1zM243 172h1v9h-1zM244 171h1v9h-1zM245 163h1v14h-1zM246 158h1v16h-1zM247 158h1v15h-1zM248 158h1v18h-1zM249 168h1v10h-1zM250 171h1v11h-1zM251 173h1v19h-1zM252 178h1v20h-1zM253 180h1v18h-1zM254 175h1v23h-1zM255 172h1v16h-1zM256 171h1v10h-1zM257 169h1v8h-1zM258 166h1v8h-1zM259 166h1v7h-1zM260 167h1v10h-1zM261 168h1v9h-1zM262 172h1v5h-1zM263 171h1v5h-1zM264 172h1v4h-1zM265 172h1v5h-1zM266 171h1v5h-1zM267 172h1v5h-1zM268 173h1v5h-1zM269 173h1v7h-1zM270 173h1v10h-1zM271 174h1v12h-1zM272 178h1v7h-1zM273 177h1v8h-1zM274 177h1v6h-1zM275 178h1v6h-1zM276 178h1v6h-1zM277 175h1v9h-1zM278 172h1v11h-1zM279 170h1v9h-1zM280 168h1v9h-1zM281 168h1v10h-1zM282 169h1v20h-1zM283 174h1v27h-1zM284 179h1v22h-1zM285 193h1v11h-1zM286 198h1v5h-1zM287 195h1v8h-1zM288 191h1v11h-1zM289 192h1v9h-1zM290 191h1v11h-1zM291 192h1v12h-1zM292 197h1v9h-1zM293 199h1v13h-1zM294 202h1v12h-1zM295 206h1v8h-1zM296 209h1v8h-1zM297 211h1v12h-1zM298 212h1v20h-1zM299 219h1v13h-1zM300 219h1v16h-1zM301 223h1v13h-1zM302 223h1v17h-1zM303 232h1v11h-1zM304 234h1v9h-1zM305 234h1v9h-1zM306 230h1v13h-1zM307 228h1v10h-1zM308 227h1v8h-1zM309 226h1v5h-1zM310 227h1v7h-1zM311 227h1v12h-1zM312 229h1v15h-1zM313 233h1v16h-1zM314 239h1v11h-1zM315 234h1v16h-1zM316 232h1v15h-1zM317 230h1v8h-1zM318 226h1v11h-1zM319 225h1v8h-1zM320 225h1v33h-1zM321 224h1v52h-1zM322 242h1v36h-1zM323 269h1v21h-1zM324 271h1v32h-1zM325 280h1v28h-1zM326 291h1v18h-1zM327 281h1v27h-1zM328 279h1v22h-1zM329 279h1v10h-1zM330 278h1v16h-1zM331 283h1v16h-1zM332 289h1v14h-1zM333 293h1v18h-1zM334 297h1v16h-1zM335 296h1v17h-1zM336 284h1v29h-1zM337 281h1v23h-1zM338 281h1v12h-1zM339 279h1v8h-1zM340 280h1v7h-1zM341 281h1v7h-1zM342 279h1v8h-1zM343 278h1v7h-1zM344 277h1v6h-1zM345 273h1v9h-1zM346 270h1v11h-1zM347 270h1v9h-1zM348 271h1v4h-1zM349 272h1v5h-1zM350 273h1v4h-1zM351 272h1v4h-1zM352 272h1v9h-1zM353 272h1v12h-1zM354 276h1v12h-1zM355 280h1v8h-1zM356 282h1v7h-1zM357 281h1v7h-1zM358 280h1v9h-1zM359 277h1v9h-1zM360 278h1v5h-1zM361 278h1v7h-1zM362 277h1v7h-1zM363 279h1v4h-1zM364 273h1v10h-1zM365 269h1v13h-1zM366 265h1v13h-1zM367 262h1v11h-1zM368 258h1v13h-1zM369 258h1v10h-1zM370 258h1v8h-1zM371 259h1v9h-1zM372 262h1v8h-1zM373 265h1v7h-1zM374 267h1v8h-1zM375 268h1v9h-1zM376 270h1v9h-1zM377 269h1v10h-1zM378 267h1v13h-1zM379 264h1v10h-1zM380 261h1v9h-1zM381 257h1v11h-1zM382 252h1v13h-1zM383 249h1v14h-1zM384 245h1v14h-1zM385 242h1v12h-1zM386 236h1v14h-1zM387 228h1v20h-1zM388 222h1v22h-1zM389 220h1v15h-1zM390 218h1v10h-1zM391 217h1v7h-1zM392 217h1v5h-1zM393 217h1v7h-1zM394 218h1v9h-1zM395 220h1v8h-1zM396 222h1v6h-1zM397 223h1v7h-1zM398 221h1v8h-1zM399 219h1v10h-1zM400 217h1v8h-1zM401 216h1v7h-1zM402 214h1v8h-1zM403 211h1v8h-1zM404 209h1v10h-1zM405 206h1v9h-1zM406 206h1v6h-1zM407 204h1v8h-1zM408 203h1v27h-1zM409 204h1v36h-1zM410 218h1v27h-1zM411 233h1v12h-1zM412 235h1v9h-1zM413 233h1v9h-1zM414 232h1v8h-1zM415 234h1v9h-1zM416 235h1v8h-1zM417 237h1v6h-1zM418 233h1v9h-1zM419 232h1v18h-1zM420 225h1v25h-1zM421 224h1v23h-1zM422 218h1v16h-1zM423 211h1v20h-1zM424 205h1v23h-1zM425 205h1v15h-1zM426 205h1v13h-1zM427 211h1v9h-1zM428 215h1v4h-1zM429 217h1v4h-1zM430 216h1v7h-1zM431 218h1v5h-1zM432 218h1v8h-1zM433 217h1v19h-1zM434 218h1v22h-1zM435 228h1v14h-1zM436 233h1v9h-1zM437 230h1v12h-1zM438 231h1v9h-1zM439 231h1v10h-1zM440 232h1v15h-1zM441 232h1v16h-1zM442 228h1v20h-1zM443 224h1v16h-1zM444 225h1v8h-1zM445 225h1v11h-1zM446 228h1v12h-1zM447 232h1v14h-1zM448 234h1v17h-1zM449 239h1v15h-1zM450 240h1v14h-1zM451 237h1v17h-1zM452 233h1v14h-1zM453 232h1v9h-1zM454 231h1v7h-1zM455 229h1v7h-1zM456 226h1v9h-1zM457 223h1v10h-1zM458 222h1v8h-1zM459 221h1v7h-1zM460 220h1v5h-1zM461 220h1v6h-1zM462 216h1v10h-1zM463 213h1v14h-1zM464 210h1v12h-1zM465 209h1v10h-1zM466 207h1v8h-1zM467 201h1v12h-1zM468 196h1v16h-1zM469 191h1v18h-1zM470 191h1v11h-1zM471 191h1v14h-1zM472 193h1v17h-1zM473 197h1v12h-1zM474 198h1v12h-1zM475 195h1v12h-1zM476 193h1v11h-1zM477 189h1v10h-1zM478 185h1v13h-1zM479 184h1v10h-1zM480 184h1v6h-1zM481 183h1v4h-1zM482 181h1v6h-1zM483 180h1v7h-1zM484 181h1v4h-1zM485 181h1v7h-1zM486 181h1v11h-1zM487 182h1v9h-1zM488 185h1v8h-1zM489 185h1v6h-1zM490 184h1v6h-1zM491 184h1v10h-1zM492 183h1v13h-1zM493 189h1v11h-1zM494 192h1v11h-1zM495 194h1v11h-1zM496 198h1v8h-1zM497 197h1v9h-1zM498 192h1v14h-1zM499 188h1v15h-1zM500 188h1v10h-1zM501 187h1v11h-1zM502 188h1v12h-1zM503 193h1v8h-1zM504 195h1v6h-1zM505 193h1v7h-1zM506 194h1v9h-1zM507 194h1v18h-1zM508 199h1v20h-1zM509 196h1v22h-1zM510 188h1v30h-1zM511 186h1v21h-1zM512 185h1v10h-1zM513 182h1v7h-1zM514 182h1v7h-1zM515 182h1v5h-1zM516 182h1v6h-1zM517 183h1v8h-1zM518 182h1v11h-1zM519 175h1v18h-1zM520 174h1v14h-1zM521 174h1v6h-1zM522 175h1v6h-1zM523 176h1v7h-1zM524 177h1v7h-1zM525 179h1v7h-1zM526 180h1v7h-1zM527 182h1v7h-1zM528 183h1v8h-1zM529 185h1v5h-1zM530 186h1v8h-1zM531 185h1v16h-1zM532 188h1v16h-1zM533 194h1v15h-1zM534 198h1v15h-1zM535 202h1v13h-1zM536 208h1v8h-1zM537 212h1v5h-1zM538 213h1v5h-1zM539 207h1v12h-1zM540 203h1v15h-1zM541 202h1v12h-1zM542 201h1v6h-1zM543 201h1v11h-1zM544 202h1v11h-1zM545 204h1v12h-1zM546 206h1v25h-1zM547 209h1v27h-1zM548 221h1v18h-1zM549 231h1v11h-1zM550 225h1v15h-1zM551 216h1v24h-1zM552 213h1v21h-1zM553 214h1v9h-1zM554 214h1v3h-1zM555 213h1v7h-1zM556 215h1v9h-1zM557 215h1v10h-1zM558 219h1v6h-1zM559 217h1v8h-1zM560 215h1v8h-1zM561 213h1v8h-1zM562 212h1v7h-1zM563 212h1v5h-1zM564 212h1v5h-1zM565 212h1v4h-1zM566 213h1v5h-1zM567 214h1v4h-1zM568 214h1v5h-1zM569 213h1v5h-1zM570 214h1v4h-1zM571 214h1v7h-1zM572 215h1v8h-1zM573 201h1v23h-1zM574 194h1v29h-1zM575 188h1v25h-1zM576 189h1v13h-1zM577 189h1v7h-1zM578 190h1v7h-1zM579 193h1v5h-1zM580 193h1v4h-1zM581 193h1v5h-1zM582 193h1v7h-1zM583 193h1v11h-1zM584 195h1v13h-1zM585 198h1v14h-1zM586 202h1v12h-1zM587 200h1v13h-1zM588 198h1v15h-1zM589 197h1v9h-1zM590 196h1v5h-1zM591 196h1v6h-1zM592 197h1v7h-1zM593 199h1v6h-1zM594 201h1v5h-1zM595 202h1v5h-1zM596 202h1v6h-1zM597 201h1v7h-1zM598 197h1v10h-1zM599 191h1v14h-1zM600 186h1v16h-1zM601 182h1v14h-1zM602 181h1v11h-1zM603 182h1v6h-1zM604 182h1v5h-1zM605 183h1v6h-1zM606 182h1v7h-1zM607 178h1v11h-1zM608 174h1v12h-1zM609 174h1v9h-1zM610 173h1v12h-1zM611 173h1v23h-1zM612 175h1v22h-1zM613 188h1v10h-1zM614 193h1v5h-1zM615 195h1v5h-1zM616 191h1v9h-1zM617 188h1v11h-1zM618 184h1v11h-1zM619 179h1v14h-1zM620 173h1v16h-1zM621 168h1v16h-1zM622 165h1v13h-1zM623 165h1v8h-1zM624 164h1v5h-1zM625 164h1v7h-1zM626 164h1v15h-1zM627 167h1v17h-1zM628 172h1v14h-1zM629 178h1v10h-1zM630 181h1v10h-1zM631 184h1v14h-1zM632 187h1v23h-1zM633 191h1v29h-1zM634 201h1v26h-1zM635 213h1v13h-1zM636 219h1v8h-1zM637 219h1v16h-1zM638 220h1v23h-1zM639 228h1v16h-1zM640 224h1v20h-1zM641 221h1v19h-1zM642 219h1v10h-1zM643 218h1v7h-1zM644 218h1v9h-1zM645 218h1v14h-1zM646 221h1v18h-1zM647 226h1v12h-1zM648 228h1v11h-1zM649 225h1v12h-1zM650 223h1v9h-1zM651 222h1v9h-1zM652 223h1v8h-1zM653 225h1v6h-1zM654 222h1v9h-1zM655 220h1v9h-1zM656 220h1v6h-1zM657 220h1v8h-1zM658 221h1v15h-1zM659 221h1v16h-1zM660 217h1v20h-1zM661 217h1v18h-1zM662 217h1v13h-1zM663 218h1v12h-1zM664 217h1v13h-1zM665 221h1v12h-1zM666 225h1v10h-1zM667 226h1v7h-1zM668 225h1v8h-1zM669 224h1v6h-1zM670 224h1v6h-1zM671 222h1v10h-1zM672 226h1v10h-1zM673 228h1v12h-1zM674 231h1v9h-1zM675 235h1v17h-1zM676 237h1v37h-1zM677 243h1v58h-1zM678 259h1v44h-1zM679 284h1v20h-1zM680 279h1v24h-1zM681 279h1v14h-1zM682 279h1v10h-1zM683 275h1v14h-1zM684 269h1v16h-1zM685 270h1v10h-1zM686 268h1v7h-1zM687 267h1v8h-1zM688 267h1v6h-1zM689 267h1v7h-1zM690 268h1v9h-1zM691 270h1v13h-1zM692 272h1v15h-1zM693 276h1v13h-1zM694 280h1v9h-1zM695 277h1v12h-1zM696 277h1v10h-1zM697 277h1v10h-1zM698 268h1v19h-1zM699 261h1v24h-1zM700 260h1v17h-1zM701 258h1v9h-1zM702 255h1v8h-1zM703 253h1v9h-1zM704 248h1v12h-1zM705 240h1v18h-1zM706 232h1v22h-1zM707 225h1v23h-1zM708 224h1v16h-1zM709 224h1v10h-1zM710 224h1v13h-1zM711 229h1v8h-1zM712 231h1v10h-1zM713 234h1v11h-1zM714 236h1v10h-1zM715 241h1v6h-1zM716 242h1v5h-1zM717 243h1v6h-1zM718 244h1v5h-1zM719 244h1v5h-1zM720 241h1v8h-1zM721 240h1v8h-1zM722 239h1v6h-1zM723 238h1v6h-1zM724 238h1v4h-1zM725 236h1v6h-1zM726 233h1v7h-1zM727 229h1v11h-1zM728 227h1v11h-1zM729 224h1v9h-1zM730 221h1v10h-1zM731 221h1v9h-1zM732 220h1v12h-1zM733 222h1v10h-1zM734 222h1v9h-1zM735 222h1v14h-1zM736 225h1v13h-1zM737 231h1v8h-1zM738 225h1v14h-1zM739 221h1v18h-1zM740 219h1v14h-1zM741 219h1v14h-1zM742 218h1v21h-1zM743 226h1v18h-1zM744 233h1v16h-1zM745 237h1v15h-1zM746 244h1v11h-1zM747 249h1v12h-1zM748 250h1v13h-1zM749 242h1v20h-1zM750 236h1v21h-1zM751 232h1v17h-1zM752 229h1v13h-1zM753 229h1v11h-1zM754 229h1v18h-1zM755 235h1v20h-1zM756 240h1v20h-1zM757 249h1v11h-1zM758 244h1v16h-1zM759 241h1v15h-1zM760 240h1v10h-1zM761 240h1v4h-1zM762 239h1v4h-1z" fill="#fbbc04"/></g>
<text x="406" y="429" text-anchor="middle" class="ax">Date</text>
</svg>
</body></html>
